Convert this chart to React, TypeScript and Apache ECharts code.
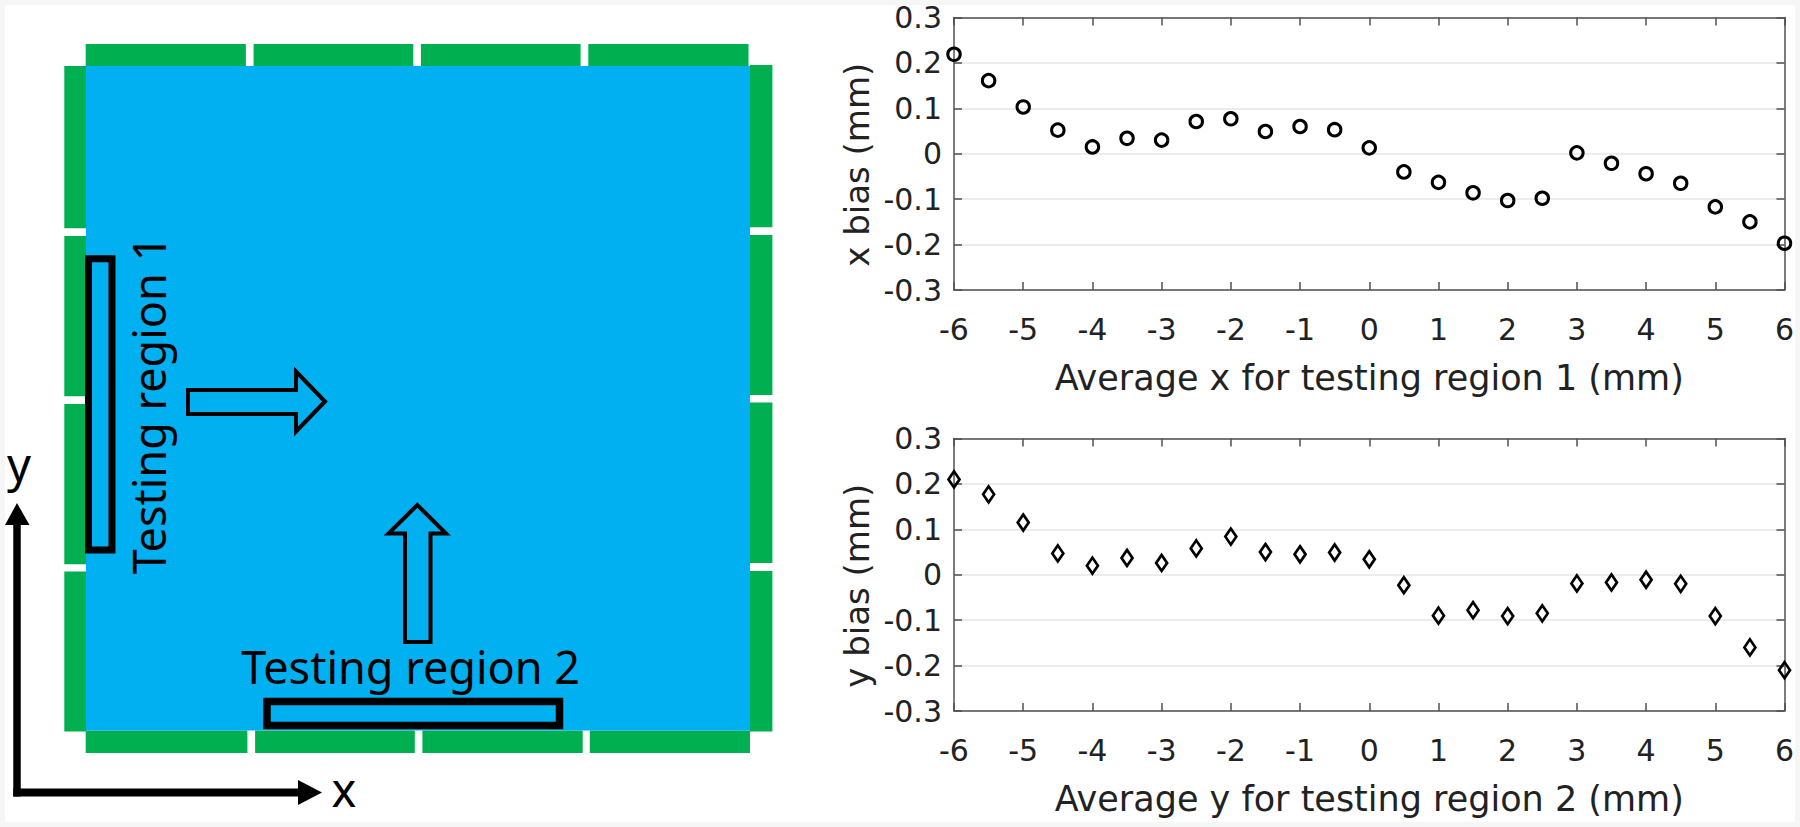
import React, { useEffect, useRef } from "react";
import * as echarts from "echarts";

// Average positions (mm) for the testing regions
const positions = [-6, -5.5, -5, -4.5, -4, -3.5, -3, -2.5, -2, -1.5, -1, -0.5, 0, 0.5, 1, 1.5, 2, 2.5, 3, 3.5, 4, 4.5, 5, 5.5, 6];
// x bias (mm) for testing region 1
const xBias = [0.219, 0.161, 0.103, 0.052, 0.015, 0.034, 0.030, 0.071, 0.077, 0.049, 0.060, 0.053, 0.013, -0.040, -0.063, -0.086, -0.103, -0.098, 0.002, -0.021, -0.044, -0.065, -0.117, -0.150, -0.197];
// y bias (mm) for testing region 2
const yBias = [0.210, 0.177, 0.115, 0.047, 0.020, 0.037, 0.026, 0.058, 0.084, 0.050, 0.045, 0.049, 0.034, -0.023, -0.090, -0.078, -0.091, -0.085, -0.019, -0.017, -0.011, -0.020, -0.091, -0.160, -0.210];

const xAxisTitles = ["Average x for testing region 1 (mm)", "Average y for testing region 2 (mm)"];
const yAxisTitles = ["x bias (mm)", "y bias (mm)"];
const diagramTexts = { region1: "Testing region 1", region2: "Testing region 2", xLabel: "x", yLabel: "y" };

const GREEN = "#00b050";
const BLUE = "#00b0f0";
const AXIS_FONT = "DejaVu Sans";
const DIAG_FONT = "Noto Sans";

function buildDiagram(): any[] {
  const els: any[] = [];
  // page frame
  els.push({ type: "rect", z: -100, shape: { x: 5, y: 5, width: 1790, height: 817 }, style: { fill: "#ffffff" }, silent: true });
  // green strips
  const topX = [[85.7, 245.9], [253.6, 413.3], [420.9, 580.6], [588.3, 748.5]];
  topX.forEach(([a, b]) => els.push({ type: "rect", shape: { x: a, y: 44, width: b - a, height: 22 }, style: { fill: GREEN } }));
  const botX = [[85.7, 247.4], [255.1, 414.8], [422.4, 582.7], [589.8, 750]];
  botX.forEach(([a, b]) => els.push({ type: "rect", shape: { x: a, y: 730.5, width: b - a, height: 22.5 }, style: { fill: GREEN } }));
  const leftY = [[66, 228.2], [236.1, 396.2], [404.1, 564.2], [571.6, 731.5]];
  leftY.forEach(([a, b]) => els.push({ type: "rect", shape: { x: 64.3, y: a, width: 21.7, height: b - a }, style: { fill: GREEN } }));
  const rightY = [[65, 227.2], [235, 395.1], [402.5, 563.1], [571, 731.6]];
  rightY.forEach(([a, b]) => els.push({ type: "rect", shape: { x: 750, y: a, width: 22.4, height: b - a }, style: { fill: GREEN } }));
  // blue square
  els.push({ type: "rect", shape: { x: 86, y: 66, width: 664, height: 664.5 }, style: { fill: BLUE } });
  // testing region 1 rectangle
  els.push({ type: "rect", shape: { x: 88.5, y: 258.7, width: 23.5, height: 291.3 }, style: { fill: "none", stroke: "#000", lineWidth: 7 } });
  // testing region 2 rectangle
  els.push({ type: "rect", shape: { x: 267, y: 701.5, width: 292.5, height: 24 }, style: { fill: "none", stroke: "#000", lineWidth: 7.5 } });
  // right arrow (outlined)
  els.push({
    type: "polygon",
    shape: { points: [[188, 390], [296, 390], [296, 371.5], [325, 401.5], [296, 431.5], [296, 414], [188, 414]] },
    style: { fill: BLUE, stroke: "#000", lineWidth: 4 },
  });
  // up arrow (outlined)
  els.push({
    type: "polygon",
    shape: { points: [[405, 642], [405, 533.5], [388.5, 533.5], [417.3, 505], [446, 533.5], [430.5, 533.5], [430.5, 642]] },
    style: { fill: BLUE, stroke: "#000", lineWidth: 4 },
  });
  // texts
  els.push({
    type: "text", x: 148, y: 405, rotation: Math.PI / 2,
    style: { text: diagramTexts.region1, fontSize: 45, fontFamily: DIAG_FONT, fill: "#000", align: "center", verticalAlign: "middle" },
  });
  els.push({
    type: "text", x: 410.7, y: 666.5,
    style: { text: diagramTexts.region2, fontSize: 45, fontFamily: DIAG_FONT, fill: "#000", align: "center", verticalAlign: "middle" },
  });
  // coordinate axes arrows
  els.push({ type: "line", shape: { x1: 17, y1: 796.5, x2: 17, y2: 522 }, style: { stroke: "#000", lineWidth: 7.5 } });
  els.push({ type: "polygon", shape: { points: [[5, 525], [17, 503], [29.5, 525]] }, style: { fill: "#000" } });
  els.push({ type: "line", shape: { x1: 13.3, y1: 792.5, x2: 300, y2: 792.5 }, style: { stroke: "#000", lineWidth: 8 } });
  els.push({ type: "polygon", shape: { points: [[298, 780], [322, 792.5], [298, 805]] }, style: { fill: "#000" } });
  els.push({
    type: "text", x: 19, y: 464,
    style: { text: diagramTexts.yLabel, fontSize: 47, fontFamily: DIAG_FONT, fill: "#000", align: "center", verticalAlign: "middle" },
  });
  els.push({
    type: "text", x: 344, y: 789,
    style: { text: diagramTexts.xLabel, fontSize: 47, fontFamily: DIAG_FONT, fill: "#000", align: "center", verticalAlign: "middle" },
  });
  return els;
}

const fmt = (v: number) => {
  const r = Math.round(v * 10) / 10;
  return r === 0 ? "0" : String(r);
};

export default function App() {
  const ref = useRef<HTMLDivElement>(null);
  useEffect(() => {
    if (!ref.current) return;
    const chart = echarts.init(ref.current, null, { renderer: "svg" });
    const axisLine = { show: true, onZero: false, lineStyle: { color: "#505050", width: 1.5 } };
    const tick = { show: true, inside: true, length: 8, lineStyle: { color: "#505050", width: 1.5 } };
    const grids = [
      { left: 954, top: 17.5, width: 830.5, height: 272.5, outerBoundsMode: "none" },
      { left: 954, top: 438.5, width: 830.5, height: 272.5, outerBoundsMode: "none" },
    ];
    const xAxes: any[] = [];
    const yAxes: any[] = [];
    [0, 1].forEach((g) => {
      xAxes.push({
        type: "value", gridIndex: g, min: -6, max: 6, interval: 1, position: "bottom",
        axisLine, axisTick: tick, splitLine: { show: false },
        axisLabel: { fontFamily: AXIS_FONT, fontSize: 30, color: "#222", margin: 24 },
        name: xAxisTitles[g], nameLocation: "middle", nameGap: 70, nameMoveOverlap: false,
        nameTextStyle: { fontFamily: AXIS_FONT, fontSize: 35, color: "#222" },
      });
      xAxes.push({
        type: "value", gridIndex: g, min: -6, max: 6, interval: 1, position: "top",
        axisLine, axisTick: tick, splitLine: { show: false }, axisLabel: { show: false },
      });
      yAxes.push({
        type: "value", gridIndex: g, min: -0.3, max: 0.3, interval: 0.1, position: "left",
        axisLine, axisTick: tick,
        splitLine: { show: true, lineStyle: { color: "#e6e6e6", width: 1.5 } },
        axisLabel: { fontFamily: AXIS_FONT, fontSize: 30, color: "#222", margin: 12, formatter: fmt },
        name: yAxisTitles[g], nameLocation: "middle", nameGap: 80, nameMoveOverlap: false,
        nameTextStyle: { fontFamily: AXIS_FONT, fontSize: 34, color: "#222", padding: [0, 22, 0, 0] },
      });
      yAxes.push({
        type: "value", gridIndex: g, min: -0.3, max: 0.3, interval: 0.1, position: "right",
        axisLine, axisTick: tick, splitLine: { show: false }, axisLabel: { show: false },
      });
    });
    chart.setOption({
      animation: false,
      backgroundColor: "#f6f6f6",
      grid: grids,
      xAxis: xAxes,
      yAxis: yAxes,
      graphic: buildDiagram(),
      series: [
        {
          type: "scatter", xAxisIndex: 0, yAxisIndex: 0, clip: false,
          data: positions.map((p, i) => [p, xBias[i]]),
          symbol: "circle", symbolSize: 12.5,
          itemStyle: { color: "rgba(255,255,255,0)", borderColor: "#000", borderWidth: 3, opacity: 1 },
          z: 5,
        },
        {
          type: "scatter", xAxisIndex: 2, yAxisIndex: 2, clip: false,
          data: positions.map((p, i) => [p, yBias[i]]),
          symbol: "diamond", symbolSize: [11, 16],
          itemStyle: { color: "rgba(255,255,255,0)", borderColor: "#000", borderWidth: 2.8, opacity: 1 },
          z: 5,
        },
      ],
    });
    return () => chart.dispose();
  }, []);
  return <div ref={ref} style={{ position: "absolute", left: 0, top: 0, width: 1800, height: 827 }} />;
}
